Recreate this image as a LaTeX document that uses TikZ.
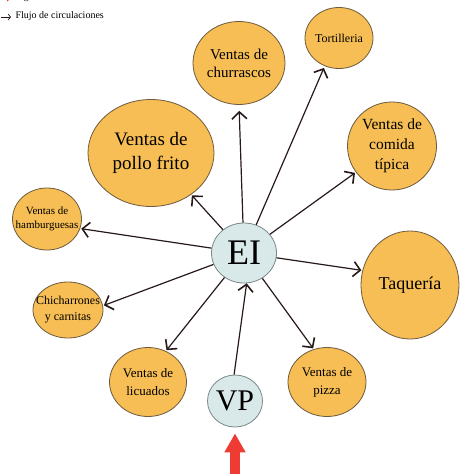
\documentclass[tikz,border=0pt]{standalone}
\usepackage{fontspec}
\setmainfont{Liberation Serif}
\usetikzlibrary{arrows.meta,shapes.geometric}
\definecolor{puesto}{RGB}{246,190,84}
\definecolor{puestoborde}{RGB}{110,90,60}
\definecolor{nodo}{RGB}{217,232,233}
\definecolor{nodoborde}{RGB}{120,135,135}
\definecolor{flecha}{RGB}{40,25,25}
\definecolor{ingreso}{RGB}{238,59,51}

\begin{document}
\begin{tikzpicture}[x=1pt,y=-1pt]
\tikzset{
  puestonode/.style={ellipse,draw=puestoborde,line width=0.8pt,fill=puesto,inner sep=0pt,align=center},
  centronode/.style={ellipse,draw=nodoborde,line width=0.8pt,fill=nodo,inner sep=0pt},
  flujo/.style={-{Straight Barb[length=7pt,width=15pt,line width=1.6pt]},line width=1.2pt,draw=flecha},
  entrada/.style={-{Triangle[length=19pt,width=20pt]},line width=10pt,draw=ingreso}
}
\clip (0,0) rectangle (460,474);
% legend
\coordinate (i_a) at (1,-1);
\coordinate (i_b) at (10,-1);
\node[anchor=west,font=\fontsize{10}{11}\selectfont] (t_in) at (12,-3) {Ingreso};
\draw[ingreso,line width=2pt,-{Triangle[length=3pt,width=5pt]}] (i_a) -- (i_b);
\coordinate (f_a) at (1,17);
\coordinate (f_b) at (11,17);
\node[anchor=west,font=\fontsize{10}{11}\selectfont] (t_fl) at (12,16) {Flujo de circulaciones};
\draw[flecha,line width=0.7pt,-{Straight Barb[length=2.5pt,width=6pt]}] (f_a) -- (f_b);
% nodes
\node[centronode,minimum width=65pt,minimum height=60pt,font=\fontsize{36}{36}\selectfont] (n_EI) at (244,253) {EI};
\node[centronode,minimum width=55pt,minimum height=52pt,font=\fontsize{30}{30}\selectfont] (n_VP) at (235,401) {VP};
\node[puestonode,minimum width=92pt,minimum height=83pt,font=\fontsize{15}{18}\selectfont] (n_chu) at (239,63) {Ventas de\\churrascos};
\node[puestonode,minimum width=68pt,minimum height=61pt,font=\fontsize{12}{14}\selectfont] (n_tor) at (339,38) {Tortilleria};
\node[puestonode,minimum width=89pt,minimum height=88pt,font=\fontsize{15.5}{20}\selectfont] (n_com) at (392,146) {Ventas de\\comida\\típica};
\node[puestonode,minimum width=98pt,minimum height=108pt,font=\fontsize{18}{20}\selectfont] (n_taq) at (410,285) {Taquería};
\node[puestonode,minimum width=78pt,minimum height=69pt,font=\fontsize{13}{18}\selectfont] (n_piz) at (327,382) {Ventas de\\pizza};
\node[puestonode,minimum width=77pt,minimum height=69pt,font=\fontsize{13}{18}\selectfont] (n_lic) at (148,382) {Ventas de\\licuados};
\node[puestonode,inner xsep=-9pt,inner ysep=-4pt,minimum width=70pt,minimum height=56pt,font=\fontsize{12}{16}\selectfont] (n_chi) at (68,310) {Chicharrones\\y carnitas};
\node[puestonode,inner xsep=-9pt,inner ysep=-3pt,minimum width=69pt,minimum height=62pt,font=\fontsize{11}{14}\selectfont] (n_ham) at (47,219) {Ventas de\\hamburguesas};
\node[puestonode,inner xsep=-4pt,minimum width=126pt,minimum height=107pt,font=\fontsize{19}{24}\selectfont] (n_pol) at (151,153) {Ventas de\\pollo frito};
\coordinate (c_in) at (235,480);
% connectors
\draw[flujo,shorten >=6pt] (n_EI) -- (n_chu.-90);
\draw[flujo,shorten >=2pt] (n_EI) -- (n_tor.-117);
\draw[flujo,shorten >=1pt] (n_EI) -- (n_com.-144);
\draw[flujo,shorten >=1pt] (n_EI) -- (n_taq.163);
\draw[flujo,shorten >=1pt] (n_EI) -- (n_piz.112);
\draw[flujo,shorten >=1pt] (n_EI) -- (n_lic.60);
\draw[flujo,shorten >=1pt] (n_EI) -- (n_chi.7);
\draw[flujo,shorten >=1pt] (n_EI) -- (n_ham.-16);
\draw[flujo,shorten >=1pt] (n_EI) -- (n_pol.-46);
\draw[flujo] (n_VP.92) -- (n_EI.-85);
\draw[entrada,shorten >=6pt] (c_in) -- (n_VP);
\end{tikzpicture}
\end{document}
